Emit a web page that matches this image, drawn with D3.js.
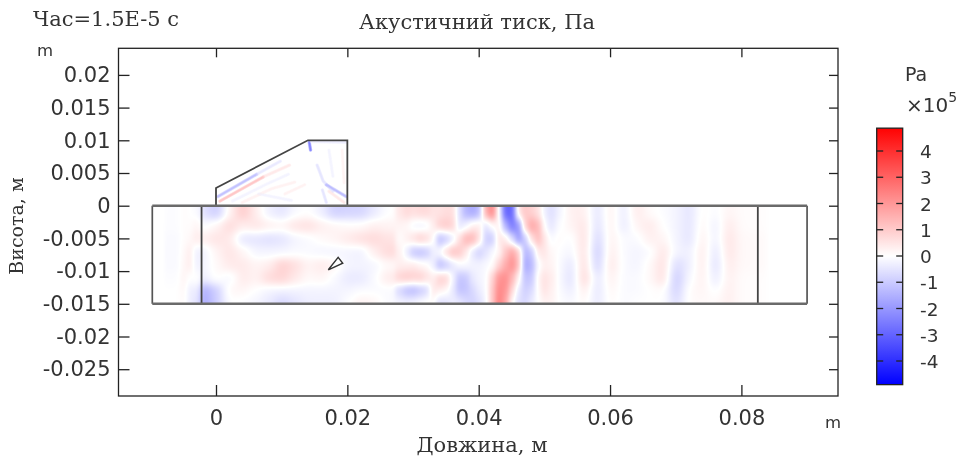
<!DOCTYPE html>
<html lang="uk">
<head>
    <meta charset="utf-8"/>
    <title>Акустичний тиск</title>
    <script src="https://d3js.org/d3.v7.min.js"></script>
    <style>
        html, body { margin: 0; padding: 0; background: #fff; }
        svg { display: block; filter: blur(0.6px); }
        .num { font-family: "DejaVu Sans", sans-serif; fill: #333; }
        .ser { font-family: "DejaVu Serif", serif; fill: #333; }
        .tick line { stroke: #222; stroke-width: 1.3; }
        .tick text { font-family: "DejaVu Sans", sans-serif; font-size: 21px; fill: #333; }
    </style>
</head>
<body>
<svg id="chart" width="962" height="459"></svg>
<script>
    const xTicks = [0, 0.02, 0.04, 0.06, 0.08];
    const xTickLabels = ["0", "0.02", "0.04", "0.06", "0.08"];
    const yTicks = [0.02, 0.015, 0.01, 0.005, 0, -0.005, -0.01, -0.015, -0.02, -0.025];
    const yTickLabels = ["0.02", "0.015", "0.01", "0.005", "0", "-0.005", "-0.01", "-0.015", "-0.02", "-0.025"];
    const barTicks = [4, 3, 2, 1, 0, -1, -2, -3, -4];

    // pressure samples in the main channel, 1e5 Pa, one inner array per fieldX entry
    const fieldY = [-0.001, -0.003, -0.005, -0.007, -0.009, -0.011, -0.013, -0.0145];
    const fieldX = [-0.006, -0.005, -0.004, -0.003, -0.002,
        0, 0.002, 0.004, 0.006, 0.008, 0.01, 0.012, 0.014, 0.016, 0.018, 0.02, 0.022, 0.024, 0.026,
        0.028, 0.029, 0.03, 0.031, 0.032, 0.033, 0.034, 0.035, 0.036, 0.037, 0.038, 0.039, 0.04,
        0.041, 0.042, 0.043, 0.044, 0.045, 0.046, 0.047, 0.048, 0.049, 0.05, 0.051, 0.052,
        0.054, 0.056, 0.058, 0.06, 0.062, 0.064, 0.066, 0.068, 0.07, 0.072, 0.074, 0.076, 0.078, 0.08];
    const fieldP = [
        [-.05, -.05, -.1, -.1, -.1, -.05, 0, 0],
        [.05, .05, .05, .1, .15, .2, .15, .1],
        [.05, .05, .1, .4, .4, 0, -.2, -.2],
        [.1, .3, .4, -.3, -.3, .2, .2, 0],
        [-.5, -.1, .3, -.3, -.2, -.3, -1.5, -1.6],
        [-1, .2, .5, .2, .1, .1, -.9, -.9],
        [.2, .7, .4, .5, .4, -.2, .2, 0],
        [1, .3, -.5, .2, .4, .4, .2, -.1],
        [.3, .5, -.5, -.2, .2, .2, 0, -.2],
        [-.3, .3, -.6, -.2, .3, .7, -.2, -.4],
        [-.5, .2, -.5, -.2, .9, .8, -.2, -.8],
        [-.1, .5, -.2, -.1, .6, .4, -.2, -.5],
        [0, .6, -.1, -.1, .2, .1, -.2, -.3],
        [-.3, .3, .1, -.2, .4, .2, -.2, -.3],
        [-.9, .2, .2, -.2, .2, -.1, -.2, -.3],
        [-.8, .1, .4, -.2, -.2, -.4, -.2, 0],
        [-.8, .1, .6, -.3, -.2, -.4, -.1, .3],
        [-.4, .3, .7, .3, -.2, -.1, -.1, .2],
        [0, .2, .5, .7, .1, .4, -.1, -.1],
        [.5, .2, 0, .2, .3, .9, -1, -.1],
        [.7, .1, .3, -.4, .3, 1, -1.4, -.1],
        [.6, -.2, .6, -1.1, .4, .9, -1.5, 0],
        [.7, -.3, .9, -1.2, .2, .9, -1.2, .1],
        [.7, -.2, .7, -1, .1, .6, -.9, .2],
        [.5, .3, .1, -.3, -.3, .3, .5, 0],
        [.5, .9, -1.3, 0, -1.3, .9, .4, -.7],
        [.6, 1, -1, .7, -1, .8, .2, -.6],
        [.6, .8, -.4, 1.2, -.5, -.2, -.4, -.3],
        [-.6, -.5, .6, 1, -.1, -1.1, -1.2, -.3],
        [-1.4, -.2, 1.4, .4, -.1, -1, -1.1, -.6],
        [-1.6, .3, 1.4, -.5, -.2, -.4, -.7, -.8],
        [-1.3, .4, .6, -.9, -.2, -.2, -.3, -.6],
        [1.5, -.6, -.9, -.5, -.1, -.1, -.1, -.2],
        [2.3, 0, -1, -.1, 0, .8, 1, 1],
        [0, .3, .5, .1, .8, 2, 2.2, 2.4],
        [-2.9, -1.4, .4, 1, 1.5, 2.1, 2, 1.6],
        [-2.9, -2.5, -.6, 1.7, 2.1, 1.3, .8, 0],
        [.6, -2, -1.9, 1, 1.2, .2, -.4, -.6],
        [1, .9, -1, -1.4, -1.7, -1.1, -.9, -.7],
        [.8, 1.7, .6, -1, -1.3, -1, -.7, -.3],
        [.5, 1.3, 1.2, .4, -.1, .2, .1, 0],
        [-.3, 0, .5, .5, .3, .6, .6, .2],
        [-.7, -.6, -.2, .2, .3, .5, .4, .3],
        [-.3, -.1, .1, 0, 0, 0, 0, 0],
        [.3, .2, -.1, -.2, -.5, -.6, -.4, -.1],
        [.3, .5, .6, .6, .7, .8, .4, .1],
        [-.5, -.6, -.8, -1, -.9, -.5, -.5, -.4],
        [.3, .3, .3, .4, .5, .3, .2, .1],
        [-.4, -.4, -.1, -.1, -.1, -.1, -.1, -.1],
        [.4, .2, -.1, -.2, -.2, -.1, -.1, 0],
        [.05, .4, .3, -.1, .1, .1, 0, 0],
        [-.05, 0, .2, .5, .6, .6, .1, 0],
        [-.2, -.2, -.2, -.2, -.7, -1, -.9, -.6],
        [-.5, -.5, -.5, -.3, -.3, -.1, .1, .1],
        [.1, .2, .3, .4, .4, .3, .2, .1],
        [-.1, -.3, -.3, -.5, -.6, -.4, -.1, .1],
        [.2, .4, .5, .5, .4, .3, .3, .3],
        [.05, .05, .1, .1, .1, .05, .05, .05]
    ];

    // wave fronts in the horn: value and polyline [x, y] in metres
    const bandP = [-1.4, -.5, 1.3, .5, -.25, .3, -2.8, -.6, -1.5, -.6, .5, -.4, .25, -.25, .3, -.25];
    const bandPath = [
        [[.0003, .0014], [.0062, .0048]],
        [[.0062, .0048], [.0098, .0068]],
        [[.0006, .0007], [.0072, .0044]],
        [[.0072, .0044], [.0112, .0062]],
        [[.0025, .0007], [.0075, .0032], [.011, .0048]],
        [[.004, .0005], [.0085, .0026], [.012, .0036]],
        [[.0142, .0097], [.0144, .0085]],
        [[.0154, .0062], [.0163, .0038], [.0178, .0022]],
        [[.0168, .0032], [.0198, .0014]],
        [[.0162, .0024], [.0168, .0005]],
        [[.0172, .0022], [.0195, .0005]],
        [[.0144, .0098], [.0198, .0097]],
        [[.0192, .0085], [.0195, .0035]],
        [[.0172, .0085], [.0178, .0045]],
        [[.0105, .0018], [.0135, .0032]],
        [[.0065, .0018], [.0115, .0008]]
    ];

    const tubeX = [-0.0097, 0.09];
    const tubeY = [0, -0.015];
    const innerX = [-0.0022, 0.0825];
    const hornOutline = [[0, 0], [0, 0.0027], [0.014, 0.01], [0.02, 0.01], [0.02, 0]];
    const cursorOutline = [[0.0171, -0.0098], [0.0186, -0.0079], [0.0193, -0.0088]];

    const svg = d3.select("#chart");
    const frameLeft = 118.5, frameRight = 838, frameTop = 48.3, frameBottom = 396;

    const x = d3.scaleLinear().domain([0, 0.08]).range([216, 741.4]);
    const y = d3.scaleLinear().domain([0, -0.025]).range([205.7, 369.2]);
    const color = d3.scaleLinear().domain([-4.9, 0, 4.9]).range(["#0000ff", "#ffffff", "#ff0000"]);
    const barY = d3.scaleLinear().domain([0, 4]).range([256, 151]);

    const pathLine = d3.line().x(d => x(d[0])).y(d => y(d[1]));
    const defs = svg.append("defs");
    defs.append("clipPath").attr("id", "hornClip").append("path")
        .attr("d", pathLine(hornOutline) + "Z");

    svg.append("rect").attr("width", 962).attr("height", 459).attr("fill", "#fff");

    // smooth the samples into a pixel image, kernel width follows the local sample spacing
    function renderField() {
        const x0 = Math.round(x(tubeX[0])), y0 = Math.round(y(tubeY[0]));
        const w = Math.round(x(tubeX[1])) - x0, h = Math.round(y(tubeY[1])) - y0;
        const canvas = document.createElement("canvas");
        canvas.width = w;
        canvas.height = h;
        const ctx = canvas.getContext("2d");
        const img = ctx.createImageData(w, h);
        const colX = fieldX.map(x), rowY = fieldY.map(y);
        const colS = colX.map((c, i) => 0.52 * (i < colX.length - 1 ? colX[i + 1] - c : c - colX[i - 1]));
        const rowS = 6.2;
        for (let py = 0; py < h; py++) {
            const rowW = rowY.map(r => Math.exp(-((py + y0 - r) ** 2) / (2 * rowS * rowS)));
            for (let px = 0; px < w; px++) {
                let sum = 0, weight = 0.002;
                colX.forEach((c, i) => {
                    const dx = px + x0 - c;
                    if (Math.abs(dx) > 4 * colS[i]) return;
                    const wx = Math.exp(-(dx * dx) / (2 * colS[i] * colS[i]));
                    rowW.forEach((wy, j) => {
                        sum += wx * wy * fieldP[i][j];
                        weight += wx * wy;
                    });
                });
                const c = d3.rgb(color(1.05 * sum / weight));
                const k = 4 * (py * w + px);
                img.data[k] = c.r;
                img.data[k + 1] = c.g;
                img.data[k + 2] = c.b;
                img.data[k + 3] = 255;
            }
        }
        ctx.putImageData(img, 0, 0);
        svg.append("image").attr("href", canvas.toDataURL())
            .attr("x", x0).attr("y", y0).attr("width", w).attr("height", h);
    }
    renderField();

    // soft edged wave fronts, wide faint strokes under a narrow one
    const hornLayers = [3.4, 2.4, 1.3];
    const horn = svg.append("g").attr("clip-path", "url(#hornClip)");
    hornLayers.forEach(width => {
        horn.append("g").selectAll("path").data(bandPath).join("path")
            .attr("d", pathLine)
            .attr("fill", "none")
            .attr("stroke-linecap", "round")
            .attr("stroke", (d, i) => color(bandP[i] * 1.2))
            .attr("stroke-opacity", 0.33)
            .attr("stroke-width", width);
    });

    // geometry outlines
    const outlines = svg.append("g").attr("fill", "none");
    outlines.append("path").attr("d", pathLine(hornOutline))
        .attr("stroke", "#444").attr("stroke-width", 1.8);
    outlines.selectAll("line.inner").data(innerX).join("line").attr("class", "inner")
        .attr("x1", d => x(d)).attr("x2", d => x(d))
        .attr("y1", y(tubeY[0])).attr("y2", y(tubeY[1]))
        .attr("stroke", "#444").attr("stroke-width", 1.8);
    outlines.selectAll("line.end").data(tubeX).join("line").attr("class", "end")
        .attr("x1", d => x(d)).attr("x2", d => x(d))
        .attr("y1", y(tubeY[0])).attr("y2", y(tubeY[1]))
        .attr("stroke", "#555").attr("stroke-width", 1.7);
    outlines.selectAll("line.wall").data(tubeY).join("line").attr("class", "wall")
        .attr("x1", x(tubeX[0])).attr("x2", x(tubeX[1]))
        .attr("y1", d => y(d)).attr("y2", d => y(d))
        .attr("stroke", "#6a6a6a").attr("stroke-width", 2.4);
    outlines.append("path").attr("d", pathLine(cursorOutline) + "Z")
        .attr("fill", "#fff").attr("stroke", "#333").attr("stroke-width", 1.4);

    // axes, ticks point inwards on all four sides
    const xAxisBottom = d3.axisBottom(x).tickValues(xTicks).tickSizeInner(-11).tickSizeOuter(0).tickPadding(14.5)
        .tickFormat((d, i) => xTickLabels[i]);
    const xAxisTop = d3.axisTop(x).tickValues(xTicks).tickSizeInner(-9).tickSizeOuter(0).tickFormat("");
    const yAxisLeft = d3.axisLeft(y).tickValues(yTicks).tickSizeInner(-11).tickSizeOuter(0).tickPadding(8)
        .tickFormat((d, i) => yTickLabels[i]);
    const yAxisRight = d3.axisRight(y).tickValues(yTicks).tickSizeInner(-9).tickSizeOuter(0).tickFormat("");

    svg.append("g").attr("transform", `translate(0,${frameBottom})`).call(xAxisBottom);
    svg.append("g").attr("transform", `translate(0,${frameTop})`).call(xAxisTop);
    svg.append("g").attr("transform", `translate(${frameLeft},0)`).call(yAxisLeft);
    svg.append("g").attr("transform", `translate(${frameRight},0)`).call(yAxisRight);
    svg.selectAll(".domain").remove();
    svg.append("rect").attr("x", frameLeft).attr("y", frameTop)
        .attr("width", frameRight - frameLeft).attr("height", frameBottom - frameTop)
        .attr("fill", "none").attr("stroke", "#222").attr("stroke-width", 1.3);

    // colour bar
    const barLeft = 876.7, barRight = 902.7, barMax = 4.87, barMin = -4.9;
    const gradient = defs.append("linearGradient").attr("id", "barFill")
        .attr("x1", 0).attr("x2", 0).attr("y1", 0).attr("y2", 1);
    gradient.selectAll("stop").data([barMax, 0, barMin]).join("stop")
        .attr("offset", d => (barMax - d) / (barMax - barMin))
        .attr("stop-color", d => color(d));
    svg.append("rect").attr("x", barLeft).attr("y", barY(barMax))
        .attr("width", barRight - barLeft).attr("height", barY(barMin) - barY(barMax))
        .attr("fill", "url(#barFill)").attr("stroke", "#222").attr("stroke-width", 1.3);
    const barAxis = svg.append("g");
    barAxis.selectAll("line.l").data(barTicks).join("line").attr("class", "l")
        .attr("x1", barLeft).attr("x2", barLeft + 6.5)
        .attr("y1", d => barY(d)).attr("y2", d => barY(d))
        .attr("stroke", "#222").attr("stroke-width", 1.3);
    barAxis.selectAll("line.r").data(barTicks).join("line").attr("class", "r")
        .attr("x1", barRight - 6.5).attr("x2", barRight)
        .attr("y1", d => barY(d)).attr("y2", d => barY(d))
        .attr("stroke", "#222").attr("stroke-width", 1.3);
    barAxis.selectAll("text").data(barTicks).join("text").attr("class", "num")
        .attr("x", 920).attr("y", d => barY(d) + 7)
        .attr("font-size", 18.5)
        .text(d => d);

    // labels
    function label(cls, px, py, size, anchor, txt) {
        return svg.append("text").attr("class", cls).attr("x", px).attr("y", py)
            .attr("font-size", size).attr("text-anchor", anchor).text(txt);
    }
    label("ser", 33, 26, 21, "start", "Час=1.5E-5 с");
    label("ser", 477, 29, 21, "middle", "Акустичний тиск, Па");
    label("ser", 482, 452, 21, "middle", "Довжина, м");
    label("ser", 0, 0, 19, "middle", "Висота, м").attr("transform", "translate(23,226) rotate(-90)");
    label("num", 37, 56, 16.5, "start", "m");
    label("num", 825, 427.5, 16.5, "start", "m");
    label("num", 905, 81, 19, "start", "Pa");
    const power = label("num", 906, 112, 20, "start", "×10");
    power.append("tspan").attr("dy", -10).attr("font-size", 14).text("5");
</script>
</body>
</html>
